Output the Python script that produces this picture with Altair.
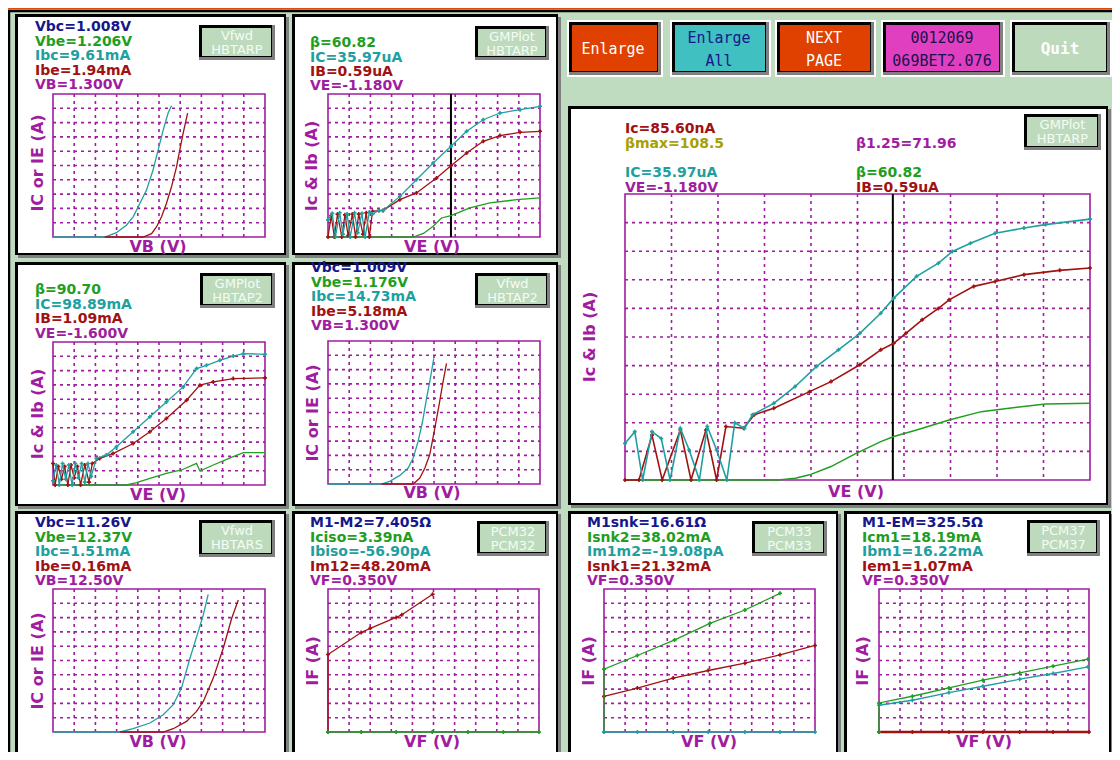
import altair as alt
import pandas as pd

OFF = 8            # page margin: reference pixel -> canvas pixel
W, H = 1104, 744

FONT = "DejaVu Sans"
MONO = "DejaVu Sans Mono"
TS = 14
LS = 16

PURPLE = "#a01ca0"
TEAL = "#1fa0a0"
RED = "#a01212"
GREEN = "#1f9e1f"
NAVY = "#17178c"
OLIVE = "#a8a000"
PAGE_GREEN = "#c0dcc0"
BTN_FACE = "#bddabd"
BTN_TEXT = "#f4fcf4"
ORANGE_RED = "#e04000"
CYAN = "#40c0c0"
MAGENTA = "#e040c0"
SHADOW = "#808080"

GRID_STEPS = [1, 2, 3, 4, 5, 6, 7, 8, 9]

# ---------------- data (grid units, 10 x 10 divisions) ----------------
P1_IBC_X = [0, 2.44, 2.99, 3.46, 3.78, 4.02, 4.41, 4.72, 4.96, 5.2, 5.43, 5.59]
P1_IBC_Y = [0, 0, 0.3, 0.82, 1.41, 2.11, 3.28, 4.68, 6.09, 7.49, 8.67, 9.18]
P1_IBE_X = [2.44, 4.25, 4.65, 4.88, 5.12, 5.35, 5.59, 5.83, 5.98, 6.14, 6.35]
P1_IBE_Y = [0, 0, 0.23, 0.7, 1.41, 2.34, 3.51, 4.92, 6.09, 7.26, 8.67]

P2_IC_X = [0, 0.2, 0.35, 0.55, 0.7, 0.9, 1.05, 1.25, 1.4, 1.6, 1.75, 1.95, 2.1, 2.4, 2.6, 3.39, 4.17, 4.96, 5.8, 6.54, 7.32, 8.11, 9.06, 10]
P2_IC_Y = [1.2, 1.65, 0, 1.7, 0.2, 1.6, 0, 1.7, 0.3, 1.65, 0, 1.75, 1.6, 1.85, 1.86, 2.84, 4.0, 5.17, 6.34, 7.39, 8.2, 8.67, 8.9, 9.14]
P2_IB_X = [0, 0.15, 0.3, 0.45, 0.65, 0.8, 0.95, 1.15, 1.3, 1.45, 1.65, 1.8, 1.95, 2.1, 2.4, 2.6, 3.39, 4.17, 5.12, 5.8, 6.54, 7.32, 8.11, 9.06, 10]
P2_IB_Y = [0, 1.5, 0, 1.6, 0, 1.55, 0.1, 1.6, 0, 1.6, 0.2, 1.7, 0, 1.8, 1.85, 1.86, 2.61, 3.08, 4.13, 4.99, 5.87, 6.69, 7.09, 7.32, 7.39]
P2_BETA_X = [0, 4.02, 4.5, 4.96, 5.35, 5.8, 6.69, 7.64, 8.9, 10]
P2_BETA_Y = [0, 0, 0.25, 0.75, 1.33, 1.49, 2.03, 2.38, 2.61, 2.73]

P3_IC_X = [0, 0.15, 0.3, 0.45, 0.6, 0.75, 0.9, 1.05, 1.2, 1.35, 1.5, 1.65, 1.8, 2.05, 2.52, 2.99, 3.78, 4.57, 5.35, 6.14, 6.77, 7.24, 7.87, 8.5, 8.98, 10]
P3_IC_Y = [0.3, 1.4, 0, 1.5, 0.4, 1.4, 0, 1.5, 0.5, 1.5, 0.2, 1.5, 0.6, 1.86, 2.09, 2.67, 3.72, 4.77, 5.81, 6.86, 8.14, 8.37, 8.72, 9.02, 9.19, 9.14]
P3_IB_X = [0, 0.1, 0.25, 0.4, 0.55, 0.7, 0.85, 1.0, 1.15, 1.3, 1.5, 1.7, 1.85, 2.2, 2.83, 3.78, 4.57, 5.35, 6.3, 6.93, 7.56, 8.5, 10]
P3_IB_Y = [1.5, 0, 1.3, 0.4, 1.3, 0, 1.4, 0.5, 1.3, 0, 1.4, 0.2, 1.5, 1.86, 2.2, 2.9, 3.72, 4.65, 5.93, 6.98, 7.21, 7.44, 7.49]
P3_BETA_X = [0, 3.46, 3.94, 4.57, 5.35, 6.06, 6.77, 6.93, 7.56, 8.5, 8.98, 10]
P3_BETA_Y = [0, 0, 0.16, 0.47, 0.81, 1.05, 1.51, 0.98, 1.4, 1.98, 2.26, 2.26]

P4_IBC_X = [0, 2.52, 2.91, 3.39, 3.78, 4.02, 4.25, 4.46, 4.65, 4.83, 4.99]
P4_IBC_Y = [0, 0, 0.19, 0.6, 1.12, 1.81, 2.98, 4.37, 6.0, 7.4, 8.79]
P4_IBE_X = [2.52, 4.02, 4.33, 4.57, 4.8, 5.04, 5.24, 5.4, 5.59]
P4_IBE_Y = [0, 0, 0.42, 1.12, 2.05, 3.91, 5.53, 6.93, 8.44]

BIG_IC_X = [0, 0.21, 0.38, 0.58, 0.78, 0.97, 1.19, 1.38, 1.6, 1.77, 1.97, 2.19, 2.36, 2.57, 2.74, 3.2, 3.66, 4.12, 4.59, 5.05, 5.5, 5.78, 6.27, 6.74, 7.04, 7.43, 7.96, 8.58, 9.04, 10]
BIG_IC_Y = [1.28, 1.69, 0, 1.69, 1.45, 0, 1.81, 1.05, 0, 1.87, 1.05, 0, 2.0, 1.8, 2.28, 2.68, 3.27, 3.97, 4.55, 5.13, 5.83, 6.36, 7.12, 7.58, 7.99, 8.28, 8.63, 8.81, 8.93, 9.12]
BIG_IB_X = [0, 0.3, 0.58, 0.8, 1.19, 1.42, 1.74, 1.97, 2.17, 2.55, 2.78, 3.2, 3.97, 4.43, 5.05, 5.5, 5.78, 6.04, 6.39, 6.74, 6.97, 7.5, 7.96, 8.58, 9.35, 10]
BIG_IB_Y = [0, 0, 1.57, 0, 1.75, 0, 1.75, 0, 1.87, 1.81, 2.28, 2.51, 3.09, 3.44, 4.03, 4.55, 4.78, 5.13, 5.6, 6.0, 6.3, 6.77, 6.94, 7.18, 7.33, 7.41]
BIG_BETA_X = [0, 3.3, 3.66, 3.97, 4.43, 4.97, 5.5, 5.78, 6.27, 6.97, 7.66, 8.43, 9.04, 10]
BIG_BETA_Y = [0, 0, 0.06, 0.18, 0.47, 0.93, 1.34, 1.52, 1.75, 2.1, 2.39, 2.54, 2.66, 2.68]

P7_IBC_X = [0, 3.15, 3.78, 4.57, 5.2, 5.67, 6.06, 6.46, 6.85, 7.09, 7.32]
P7_IBC_Y = [0, 0, 0.23, 0.63, 1.21, 1.91, 3.07, 5.16, 7.02, 8.19, 9.63]
P7_IBE_X = [3.15, 5.2, 5.67, 6.3, 6.77, 7.09, 7.56, 8.03, 8.43, 8.74]
P7_IBE_Y = [0, 0, 0.23, 0.74, 1.44, 2.14, 3.77, 5.86, 7.95, 9.23]

P8_IM12_X = [0, 0, 1.57, 2.0, 3.23, 3.5, 4.96]
P8_IM12_Y = [0, 5.42, 6.96, 7.25, 8.01, 8.2, 9.63]
P8_ICISO_X = [0, 1.57, 3.23, 4.94, 6.63, 8.31, 10]
P8_ICISO_Y = [0, 0, 0, 0, 0, 0, 0]

P9_ISNK2_X = [0, 0, 1.58, 3.35, 5.02, 6.68, 8.34]
P9_ISNK2_Y = [0, 4.4, 5.35, 6.44, 7.6, 8.53, 9.7]
P9_ISNK1_X = [0, 1.58, 3.28, 4.94, 6.68, 8.34, 10]
P9_ISNK1_Y = [2.49, 3.07, 3.77, 4.3, 4.81, 5.4, 6.05]
P9_IM1M2_X = [0, 1.58, 3.28, 4.94, 6.68, 8.34, 10]
P9_IM1M2_Y = [0, 0, 0, 0, 0, 0, 0]

P10_ICM1_X = [0, 0, 1.59, 3.33, 4.95, 6.7, 8.29, 9.95]
P10_ICM1_Y = [0, 2.03, 2.5, 3.08, 3.62, 4.14, 4.6, 5.09]
P10_IBM1_X = [0, 1.59, 3.33, 4.95, 6.7, 8.29, 9.95]
P10_IBM1_Y = [1.87, 2.22, 2.76, 3.2, 3.69, 4.09, 4.56]
P10_IEM1_X = [0, 1.59, 3.33, 4.95, 6.7, 8.29, 10]
P10_IEM1_Y = [0, 0, 0, 0, 0, 0, 0]

P2_CURSOR = [5.8]
BIG_CURSOR = [5.76]

# ---------------- helpers ----------------
ONE = pd.DataFrame({"_": [0]})
L = []


def rect(x0, y0, x1, y1, fill, stroke=None, sw=0):
    kw = {"fill": fill, "strokeWidth": sw}
    if stroke:
        kw["stroke"] = stroke
    return alt.Chart(ONE).mark_rect(**kw).encode(
        x=alt.value(x0 - OFF), x2=alt.value(x1 - OFF),
        y=alt.value(y0 - OFF), y2=alt.value(y1 - OFF))


def txt(s, x, y, color, size=TS, weight="bold", font=FONT, align="left",
        baseline="alphabetic", angle=None):
    kw = dict(text=s, color=color, fontSize=size, fontWeight=weight, font=font,
              align=align, baseline=baseline)
    if angle is not None:
        kw["angle"] = angle
    return alt.Chart(ONE).mark_text(**kw).encode(x=alt.value(x - OFF), y=alt.value(y - OFF))


def bevel(x0, y0, x1, y1, face, highlight=False):
    out = []
    if highlight:
        out.append(rect(x0 - 2, y0 - 2, x1 + 2, y1 + 2, "white"))
    out.append(rect(x0, y0, x1, y1, SHADOW))
    out.append(rect(x0, y0, x1 - 3, y1 - 3, "black"))
    out.append(rect(x0 + 3, y0 + 3, x1 - 4, y1 - 4, face))
    return out


def panel_box(x0, y0, x1, y1):
    return [rect(x0 + 3, y0 + 3, x1 + 3, y1 + 3, SHADOW),
            rect(x0, y0, x1, y1, "black"),
            rect(x0 + 3, y0 + 3, x1 - 2, y1 - 2, "white")]


def small_button(x0, y0, x1, y1, line1, line2):
    out = bevel(x0, y0, x1, y1, BTN_FACE)
    cx = (x0 + x1) / 2
    out.append(txt(line1, cx, y0 + 11, BTN_TEXT, size=13, weight="normal",
                   align="center", baseline="middle"))
    out.append(txt(line2, cx, y0 + 25, BTN_TEXT, size=13, weight="normal",
                   align="center", baseline="middle"))
    return out


def plot(x0, y0, x1, y1, series, cursor=None, lw=1.3):
    xs = alt.Scale(domain=[0, 10], range=[x0 - OFF, x1 - OFF], nice=False, zero=False)
    ys = alt.Scale(domain=[0, 10], range=[y1 - OFF, y0 - OFF], nice=False, zero=False)
    g = pd.DataFrame({"k": GRID_STEPS})
    parts = [
        alt.Chart(g).mark_rule(color=PURPLE, strokeDash=[3, 4], strokeWidth=1.6).encode(
            x=alt.X("k:Q", scale=xs, axis=None),
            y=alt.value(y0 - OFF), y2=alt.value(y1 - OFF)),
        alt.Chart(g).mark_rule(color=PURPLE, strokeDash=[3, 4], strokeWidth=1.6).encode(
            y=alt.Y("k:Q", scale=ys, axis=None),
            x=alt.value(x0 - OFF), x2=alt.value(x1 - OFF)),
        alt.Chart(pd.DataFrame({"a": [0], "b": [10]})).mark_rect(
            fillOpacity=0, stroke=PURPLE, strokeWidth=1.6).encode(
            x=alt.X("a:Q", scale=xs, axis=None), x2="b:Q",
            y=alt.Y("a:Q", scale=ys, axis=None), y2="b:Q"),
    ]
    if cursor is not None:
        parts.append(alt.Chart(pd.DataFrame({"c": cursor})).mark_rule(
            color="black", strokeWidth=2).encode(
            x=alt.X("c:Q", scale=xs, axis=None),
            y=alt.value(y0 - OFF), y2=alt.value(y1 - OFF)))
    for X, Y, color, markers, w in series:
        df = pd.DataFrame({"x": X, "y": Y, "i": list(range(len(X)))})
        enc = dict(x=alt.X("x:Q", scale=xs, axis=None), y=alt.Y("y:Q", scale=ys, axis=None))
        parts.append(alt.Chart(df).mark_line(color=color, strokeWidth=w or lw).encode(
            order="i:Q", **enc))
        if markers:
            parts.append(alt.Chart(df).mark_point(shape="cross", filled=True, size=16,
                                                  color=color, opacity=1).encode(**enc))
    return alt.layer(*parts)


def readouts(x, baselines, items):
    return [txt(s, x, b, c) for (s, c), b in zip(items, baselines)]


def ylabel(s, x, y):
    return txt(s, x, y, PURPLE, size=LS, align="center", baseline="middle", angle=270)


def xlabel(s, x, y):
    return txt(s, x, y, PURPLE, size=LS, align="center")


# ---------------- page ----------------
L.append(rect(0, OFF, W + OFF, OFF + 1.5, "#e04a10"))
L.append(rect(9, 11, W + OFF + 10, H + OFF + 10, PAGE_GREEN, stroke="black", sw=2.5))

# top buttons
L += bevel(569, 22, 661, 75, ORANGE_RED, highlight=True)
L.append(txt("Enlarge", 613, 49, "white", size=15, weight="normal", font=MONO, align="center", baseline="middle"))
L += bevel(672, 22, 769, 75, CYAN, highlight=True)
L.append(txt("Enlarge", 719, 38, NAVY, size=15, weight="normal", font=MONO, align="center", baseline="middle"))
L.append(txt("All", 719, 61, NAVY, size=15, weight="normal", font=MONO, align="center", baseline="middle"))
L += bevel(777, 22, 874, 75, ORANGE_RED, highlight=True)
L.append(txt("NEXT", 824, 38, "white", size=15, weight="normal", font=MONO, align="center", baseline="middle"))
L.append(txt("PAGE", 824, 61, "white", size=15, weight="normal", font=MONO, align="center", baseline="middle"))
L += bevel(883, 22, 1003, 75, MAGENTA, highlight=True)
L.append(txt("0012069", 942, 38, "#1a1050", size=15, weight="normal", font=MONO, align="center", baseline="middle"))
L.append(txt("069BET2.076", 942, 61, "#1a1050", size=15, weight="normal", font=MONO, align="center", baseline="middle"))
L += bevel(1012, 22, 1110, 75, BTN_FACE, highlight=True)
L.append(txt("Quit", 1060, 49, "white", size=16, weight="bold", font=MONO, align="center", baseline="middle"))

# ---- P1 : Vfwd HBTARP ----
L += panel_box(15, 14, 286, 255)
L += small_button(199, 25, 275, 60, "Vfwd", "HBTARP")
L.append(plot(53, 94, 265, 237, [(P1_IBC_X, P1_IBC_Y, TEAL, False, None),
                                 (P1_IBE_X, P1_IBE_Y, RED, False, None)]))
L += readouts(35, [31, 45.5, 60, 74.5, 89],
              [("Vbc=1.008V", NAVY), ("Vbe=1.206V", GREEN), ("Ibc=9.61mA", TEAL),
               ("Ibe=1.94mA", RED), ("VB=1.300V", PURPLE)])
L.append(ylabel("IC or IE (A)", 38, 163))
L.append(xlabel("VB (V)", 158, 252))

# ---- P2 : GMPlot HBTARP ----
L += panel_box(292, 14, 558, 255)
L += small_button(475, 26, 549, 60, "GMPlot", "HBTARP")
L.append(plot(328, 94, 540, 237, [(P2_BETA_X, P2_BETA_Y, GREEN, False, None),
                                  (P2_IB_X, P2_IB_Y, RED, True, None),
                                  (P2_IC_X, P2_IC_Y, TEAL, True, None)], cursor=P2_CURSOR))
L += readouts(310, [47, 62, 76, 90],
              [("β=60.82", GREEN), ("IC=35.97uA", TEAL), ("IB=0.59uA", RED), ("VE=-1.180V", PURPLE)])
L.append(ylabel("Ic & Ib (A)", 312, 166))
L.append(xlabel("VE (V)", 432, 252))

# ---- P3 : GMPlot HBTAP2 ----
L += panel_box(15, 262, 286, 506)
L += small_button(200, 273, 275, 308, "GMPlot", "HBTAP2")
L.append(plot(53, 342, 265, 485, [(P3_BETA_X, P3_BETA_Y, GREEN, False, None),
                                  (P3_IB_X, P3_IB_Y, RED, True, None),
                                  (P3_IC_X, P3_IC_Y, TEAL, True, None)]))
L += readouts(35, [294, 308.5, 323, 338],
              [("β=90.70", GREEN), ("IC=98.89mA", TEAL), ("IB=1.09mA", RED), ("VE=-1.600V", PURPLE)])
L.append(ylabel("Ic & Ib (A)", 38, 414))
L.append(xlabel("VE (V)", 158, 500))

# ---- P4 : Vfwd HBTAP2 ----
L += panel_box(292, 262, 558, 506)
L += small_button(475, 273, 550, 308, "Vfwd", "HBTAP2")
L.append(plot(328, 341, 540, 484, [(P4_IBC_X, P4_IBC_Y, TEAL, False, None),
                                   (P4_IBE_X, P4_IBE_Y, RED, False, None)]))
L += readouts(311, [272, 286.5, 301, 315.5, 330],
              [("Vbc=1.009V", NAVY), ("Vbe=1.176V", GREEN), ("Ibc=14.73mA", TEAL),
               ("Ibe=5.18mA", RED), ("VB=1.300V", PURPLE)])
L.append(ylabel("IC or IE (A)", 313, 413))
L.append(xlabel("VB (V)", 432, 498))

# ---- Big panel (enlarged GMPlot HBTARP) ----
L += panel_box(568, 106, 1108, 505)
L += small_button(1024, 114, 1101, 150, "GMPlot", "HBTARP")
L.append(plot(625, 194, 1090, 480, [(BIG_BETA_X, BIG_BETA_Y, GREEN, False, 1.5),
                                    (BIG_IB_X, BIG_IB_Y, RED, True, 1.6),
                                    (BIG_IC_X, BIG_IC_Y, TEAL, True, 1.6)], cursor=BIG_CURSOR))
L.append(txt("Ic=85.60nA", 625, 133, RED))
L.append(txt("βmax=108.5", 625, 148, OLIVE))
L.append(txt("β1.25=71.96", 856, 148, PURPLE))
L.append(txt("IC=35.97uA", 625, 177, TEAL))
L.append(txt("VE=-1.180V", 625, 191.5, PURPLE))
L.append(txt("β=60.82", 856, 177, GREEN))
L.append(txt("IB=0.59uA", 856, 191.5, RED))
L.append(ylabel("Ic & Ib (A)", 590, 337))
L.append(xlabel("VE (V)", 856, 497))

# ---- P7 : Vfwd HBTARS ----
L += panel_box(15, 511, 286, 754)
L += small_button(199, 520, 275, 557, "Vfwd", "HBTARS")
L.append(plot(53, 589, 265, 732, [(P7_IBC_X, P7_IBC_Y, TEAL, False, None),
                                  (P7_IBE_X, P7_IBE_Y, RED, False, None)]))
L += readouts(35, [527, 541.5, 556, 570.5, 585],
              [("Vbc=11.26V", NAVY), ("Vbe=12.37V", GREEN), ("Ibc=1.51mA", TEAL),
               ("Ibe=0.16mA", RED), ("VB=12.50V", PURPLE)])
L.append(ylabel("IC or IE (A)", 38, 661))
L.append(xlabel("VB (V)", 158, 747))

# ---- P8 : PCM32 ----
L += panel_box(292, 511, 558, 754)
L += small_button(477, 521, 549, 556, "PCM32", "PCM32")
L.append(plot(328, 589, 539, 732, [(P8_IM12_X, P8_IM12_Y, RED, True, None),
                                   (P8_ICISO_X, P8_ICISO_Y, GREEN, True, None)]))
L += readouts(310, [527, 541.5, 556, 570.5, 585],
              [("M1-M2=7.405Ω", NAVY), ("Iciso=3.39nA", GREEN), ("Ibiso=-56.90pA", TEAL),
               ("Im12=48.20mA", RED), ("VF=0.350V", PURPLE)])
L.append(ylabel("IF (A)", 313, 661))
L.append(xlabel("VF (V)", 432, 747))

# ---- P9 : PCM33 ----
L += panel_box(568, 511, 838, 754)
L += small_button(752, 521, 827, 556, "PCM33", "PCM33")
L.append(plot(604, 589, 815, 732, [(P9_ISNK1_X, P9_ISNK1_Y, RED, True, None),
                                   (P9_ISNK2_X, P9_ISNK2_Y, GREEN, True, None),
                                   (P9_IM1M2_X, P9_IM1M2_Y, TEAL, True, None)]))
L += readouts(587, [527, 541.5, 556, 570.5, 585],
              [("M1snk=16.61Ω", NAVY), ("Isnk2=38.02mA", GREEN), ("Im1m2=-19.08pA", TEAL),
               ("Isnk1=21.32mA", RED), ("VF=0.350V", PURPLE)])
L.append(ylabel("IF (A)", 589, 661))
L.append(xlabel("VF (V)", 709, 747))

# ---- P10 : PCM37 ----
L += panel_box(844, 511, 1111, 754)
L += small_button(1027, 520, 1100, 556, "PCM37", "PCM37")
L.append(plot(879, 589, 1089, 732, [(P10_IEM1_X, P10_IEM1_Y, RED, True, 2.4),
                                    (P10_IBM1_X, P10_IBM1_Y, TEAL, True, None),
                                    (P10_ICM1_X, P10_ICM1_Y, GREEN, True, None)]))
L += readouts(862, [527, 541.5, 556, 570.5, 585],
              [("M1-EM=325.5Ω", NAVY), ("Icm1=18.19mA", GREEN), ("Ibm1=16.22mA", TEAL),
               ("Iem1=1.07mA", RED), ("VF=0.350V", PURPLE)])
L.append(ylabel("IF (A)", 863, 661))
L.append(xlabel("VF (V)", 984, 747))

chart = alt.layer(*L).resolve_scale(x="independent", y="independent").properties(
    width=W, height=H, padding=0,
    autosize=alt.AutoSizeParams(type="none"),
    background="white",
).configure_view(stroke=None)

chart.save("out.html", embed_options={"renderer": "svg", "actions": False})
